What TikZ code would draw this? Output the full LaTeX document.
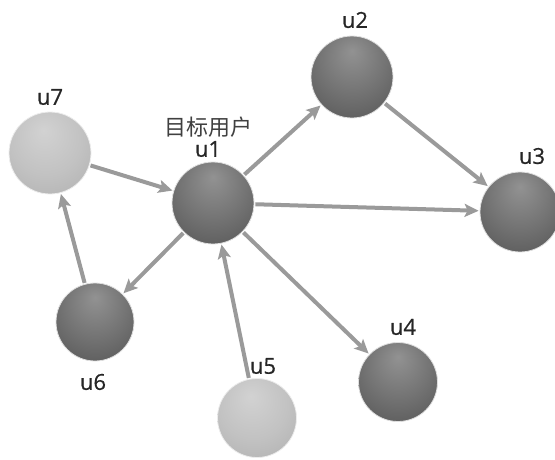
\documentclass[tikz,border=0pt]{standalone}
\usepackage{fontspec}
\setmainfont{Open Sans}[BoldFeatures={FakeBold=0.6},BoldFont={Open Sans}]
\newfontfamily\cjk{Noto Sans CJK SC}
\usetikzlibrary{arrows.meta}
\definecolor{dkA}{HTML}{929292}
\definecolor{dkB}{HTML}{747474}
\definecolor{dkC}{HTML}{525252}
\definecolor{ltA}{HTML}{D2D2D2}
\definecolor{ltB}{HTML}{C2C2C2}
\definecolor{ltC}{HTML}{AEAEAE}
\definecolor{edgec}{HTML}{9A9A9A}
\pgfdeclareradialshading{darkball}{\pgfpoint{0bp}{16bp}}{color(0bp)=(dkA); color(20bp)=(dkB); color(42bp)=(dkC); color(60bp)=(dkC)}
\pgfdeclareradialshading{lightball}{\pgfpoint{-4bp}{14bp}}{color(0bp)=(ltA); color(22bp)=(ltB); color(42bp)=(ltC); color(60bp)=(ltC)}
\tikzset{
  dknode/.style={circle, minimum size=80pt, inner sep=0pt, shading=darkball, draw=white!75!gray, line width=0.8pt},
  ltnode/.style={circle, minimum size=80pt, inner sep=0pt, shading=lightball, draw=white!85!gray, line width=0.8pt},
  lbl/.style={font=\fontsize{22}{24}\selectfont\bfseries, text=black!85, inner sep=0pt},
  cjklbl/.style={font=\fontsize{22}{24}\selectfont\cjk, text=black!75, inner sep=0pt},
  edge/.style={draw=edgec, line width=4pt, -{Stealth[length=14pt,width=13pt,inset=3pt]}, shorten >=1pt, shorten <=1pt}
}
\begin{document}
\begin{tikzpicture}[x=1pt,y=-1pt]
\useasboundingbox (0,0) rectangle (555,459);
\node[ltnode, minimum size=82pt] (u7) at (50,153) {};
\node[dknode, minimum size=82pt] (u1) at (213,203) {};
\node[dknode, minimum size=82pt] (u2) at (352,77) {};
\node[dknode, minimum size=80pt] (u3) at (520,212) {};
\node[dknode, minimum size=78pt] (u6) at (95,322) {};
\node[ltnode, minimum size=79pt] (u5) at (257,418) {};
\node[dknode, minimum size=79pt] (u4) at (398,382) {};
\node[lbl] (l7) at (50,97) {u7};
\node[cjklbl] (lt) at (208,127) {目标用户};
\node[lbl] (l1) at (208,149) {u1};
\node[lbl] (l2) at (355,20) {u2};
\node[lbl] (l3) at (532,156) {u3};
\node[lbl] (l4) at (403,327) {u4};
\node[lbl] (l5) at (263,366) {u5};
\node[lbl] (l6) at (93,382) {u6};
\draw[edge] (u7) -- (u1);
\draw[edge] (u6) -- (u7);
\draw[edge] (u1) -- (u6);
\draw[edge] (u5) -- (u1);
\draw[edge] (u1) -- (u4);
\draw[edge] (u1) -- (u3);
\draw[edge] (u1) -- (u2);
\draw[edge] (u2) -- (u3);
\end{tikzpicture}
\end{document}
